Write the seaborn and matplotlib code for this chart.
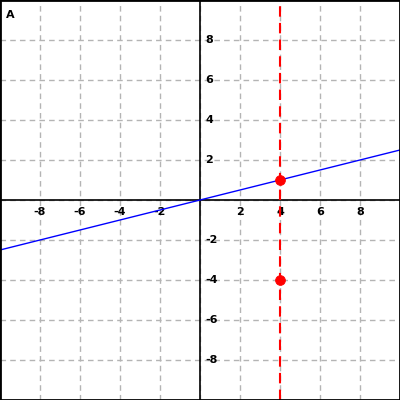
import matplotlib
matplotlib.use("Agg")
import matplotlib.pyplot as plt
from matplotlib.patches import Rectangle
import seaborn as sns
import pandas as pd

# Data
line_x = [-10, 10]
line_y = [-2.5, 2.5]
point_x = [4, 4]
point_y = [1, -4]
vline_x = 4
x_ticks = [-8, -6, -4, -2, 2, 4, 6, 8]
y_ticks = [-8, -6, -4, -2, 2, 4, 6, 8]
grid_vals = [-8, -6, -4, -2, 0, 2, 4, 6, 8]
panel_label = "A"

sns.set_style("white")
plt.rcParams['font.family'] = ['DejaVu Sans']

fig = plt.figure(figsize=(4, 4), dpi=100)
ax = fig.add_axes([0, 0, 1, 1])
ax.set_xlim(-10, 10)
ax.set_ylim(-10, 10)

# grid
for g in grid_vals:
    ax.axvline(g, color="#b4b4b4", lw=1, ls=(0, (4, 3)), zorder=0)
    ax.axhline(g, color="#b4b4b4", lw=1, ls=(0, (4, 3)), zorder=0)

# axes through origin
ax.spines['bottom'].set_position(('data', 0))
ax.spines['right'].set_position(('data', 0))
ax.spines['top'].set_visible(False)
ax.spines['left'].set_visible(False)
for s in ['bottom', 'right']:
    ax.spines[s].set_color('black')
    ax.spines[s].set_linewidth(1.2)
ax.yaxis.tick_right()
ax.set_xticks(x_ticks)
ax.set_yticks(y_ticks)
ax.set_xticklabels([str(t) for t in x_ticks], fontsize=8, fontweight='bold', color='black')
ax.set_yticklabels([str(t) for t in y_ticks], fontsize=8, fontweight='bold', color='black')
ax.tick_params(axis='x', length=0, pad=5)
ax.tick_params(axis='y', length=0, pad=4)
for lab in ax.get_yticklabels():
    lab.set_verticalalignment('center')

# blue line
df_line = pd.DataFrame({"x": line_x, "y": line_y})
sns.lineplot(data=df_line, x="x", y="y", ax=ax, color="blue", lw=1, zorder=3)

# red dashed vertical
ax.axvline(vline_x, color="red", lw=1.5, ls=(0, (5, 3)), zorder=4)

# red points
df_pts = pd.DataFrame({"x": point_x, "y": point_y})
sns.scatterplot(data=df_pts, x="x", y="y", ax=ax, color="red", s=50,
                edgecolor="red", zorder=5)

ax.set_xlabel("")
ax.set_ylabel("")

ax.text(0.015, 0.975, panel_label, transform=ax.transAxes, fontsize=8,
        fontweight='bold', ha='left', va='top', color='black')

# outer frame
fig.add_artist(Rectangle((0, 0), 1, 1, transform=fig.transFigure, fill=False,
                         edgecolor='black', linewidth=2, zorder=10))

fig.savefig("out.png", dpi=100)
